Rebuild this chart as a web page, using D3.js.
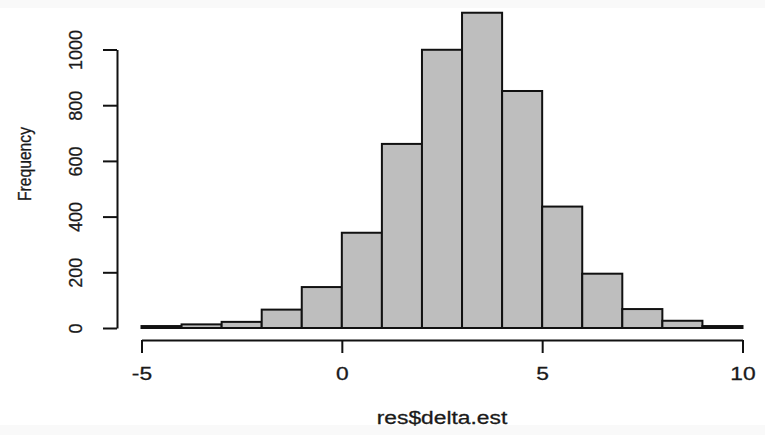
<!DOCTYPE html>
<html>
<head>
<meta charset="utf-8">
<script src="https://cdn.jsdelivr.net/npm/d3@7"></script>
<style>
  html, body { margin: 0; padding: 0; background: #fff; }
  svg { display: block; font-family: "Liberation Sans", Arial, sans-serif; }
</style>
</head>
<body>
<div id="chart"></div>
<script>
// --- data (bin width 1) ---
const binStart = [-5, -4, -3, -2, -1, 0, 1, 2, 3, 4, 5, 6, 7, 8, 9];
const binEnd   = [-4, -3, -2, -1, 0, 1, 2, 3, 4, 5, 6, 7, 8, 9, 10];
const counts   = [7, 13, 22, 66, 147, 342, 661, 999, 1132, 851, 436, 195, 68, 26, 7];
const xTicks = [-5, 0, 5, 10];
const yTicks = [0, 200, 400, 600, 800, 1000];
const xLabel = "res$delta.est";
const yLabel = "Frequency";

const width = 765;
const height = 435;
const ink = "#111";
const textCol = "#1a1a1a";

const svg = d3.select("#chart")
  .append("svg")
  .attr("width", width)
  .attr("height", height);

// faint off-white bands at top / bottom of the original image
svg.append("rect").attr("width", width).attr("height", height).attr("fill", "#f9f9f9");
svg.append("rect").attr("y", 8).attr("width", width).attr("height", 417).attr("fill", "#fff");

const x = d3.scaleLinear().domain([-5, 10]).range([141.5, 742.5]);
const y = d3.scaleLinear().domain([0, 1000]).range([328, 49.5]);

const bars = binStart.map((s, i) => ({ x0: s, x1: binEnd[i], n: counts[i] }));

svg.append("g")
  .selectAll("rect")
  .data(bars)
  .join("rect")
  .attr("x", (d) => x(d.x0))
  .attr("y", (d) => y(d.n))
  .attr("width", (d) => x(d.x1) - x(d.x0))
  .attr("height", (d) => y(0) - y(d.n))
  .attr("fill", "#bebebe")
  .attr("stroke", ink)
  .attr("stroke-width", 2);

// x axis
const gx = svg.append("g")
  .attr("transform", "translate(0,340)")
  .call(d3.axisBottom(x).tickValues(xTicks).tickSize(13).tickSizeOuter(0).tickFormat(d3.format("d")));
gx.select(".domain").attr("stroke", ink).attr("stroke-width", 2);
gx.selectAll(".tick line").attr("stroke", ink).attr("stroke-width", 2);
gx.selectAll(".tick text")
  .attr("y", 40.5)
  .attr("dy", null)
  .attr("fill", textCol)
  .attr("stroke", textCol)
  .attr("stroke-width", 0.3)
  .style("font-size", "19px")
  .attr("transform", "scale(1.2,1)")
  .text((d) => (d < 0 ? "-" + Math.abs(d) : d));

// y axis
const gy = svg.append("g")
  .attr("transform", "translate(117,0)")
  .call(d3.axisLeft(y).tickValues(yTicks).tickSize(14).tickSizeOuter(0).tickFormat(d3.format("d")));
gy.select(".domain").attr("stroke", ink).attr("stroke-width", 2);
gy.selectAll(".tick line").attr("stroke", ink).attr("stroke-width", 2);
gy.selectAll(".tick text")
  .attr("x", 0)
  .attr("dy", null)
  .attr("text-anchor", "middle")
  .attr("fill", textCol)
  .attr("stroke", textCol)
  .attr("stroke-width", 0.3)
  .style("font-size", "18px")
  .attr("transform", "translate(-35.5,0) rotate(-90)");

// axis titles
svg.append("text")
  .attr("transform", "translate(442,424) scale(1.2,1)")
  .attr("text-anchor", "middle")
  .attr("fill", textCol)
  .attr("stroke", textCol)
  .attr("stroke-width", 0.3)
  .style("font-size", "19px")
  .text(xLabel);

svg.append("text")
  .attr("transform", "translate(31,164) rotate(-90) scale(0.87,1)")
  .attr("text-anchor", "middle")
  .attr("fill", textCol)
  .attr("stroke", textCol)
  .attr("stroke-width", 0.3)
  .style("font-size", "18px")
  .text(yLabel);
</script>
</body>
</html>
